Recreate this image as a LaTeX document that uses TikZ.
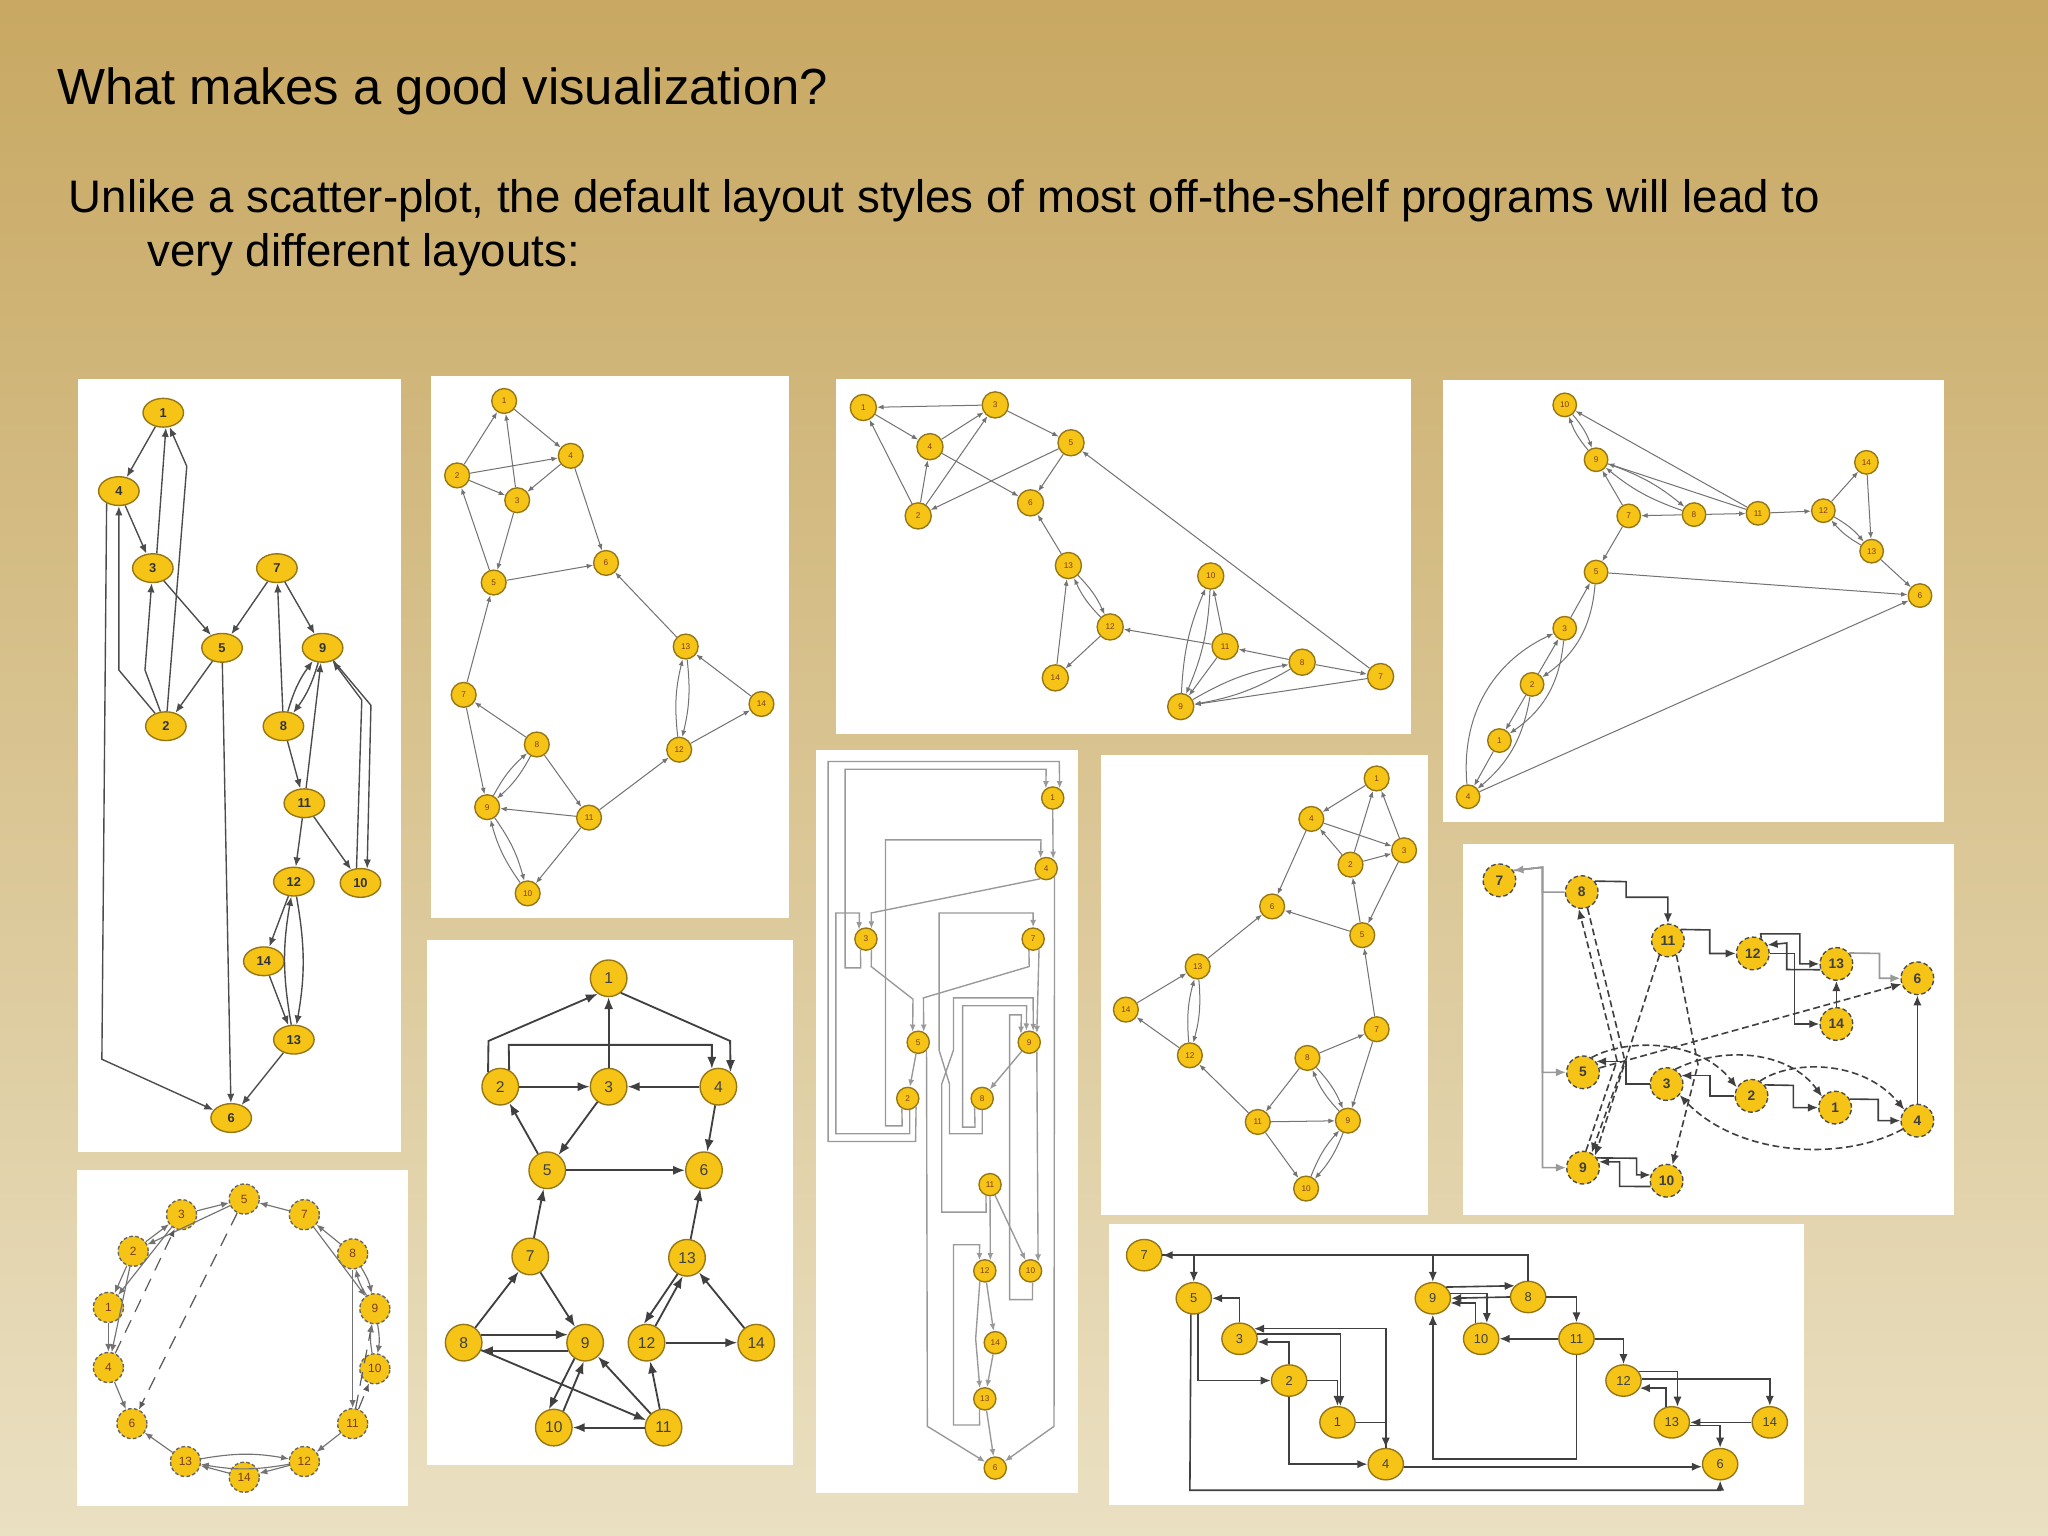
\documentclass[tikz,border=0pt]{standalone}
\usepackage{fontspec}
\setmainfont{Liberation Sans}
\usetikzlibrary{arrows.meta,shapes.geometric}
\definecolor{bgtop}{RGB}{200,168,98}
\definecolor{bgbot}{RGB}{234,224,194}
\definecolor{ygold}{RGB}{245,196,22}
\definecolor{yedge}{RGB}{150,118,20}
\definecolor{labred}{RGB}{125,60,25}
\newcommand\pnodes[3]{\foreach \n/\px/\py in {#3}{\node[#2] (#1\n) at (\px,\py) {\n};}}
\newcommand\pedges[3]{\foreach \ea/\eb in {#3}{\draw[#2] (#1\ea) -- (#1\eb);}}
\newcommand\ppairs[3]{\foreach \ea/\eb in {#3}{\draw[#2] (#1\ea) to[bend left=10] (#1\eb); \draw[#2] (#1\eb) to[bend left=10] (#1\ea);}}
\tikzset{
 nbase/.style={fill=ygold, draw=yedge, line width=0.3pt, inner sep=0pt},
 nA/.style={nbase, ellipse, minimum width=0.31cm, minimum height=0.22cm, font=\fontsize{2.8}{3}\selectfont\bfseries, text=black!80},
 nB/.style={nbase, circle, minimum size=0.19cm, font=\fontsize{1.8}{2}\selectfont, text=labred},
 nC/.style={nB, minimum size=0.20cm},
 nD/.style={nB, minimum size=0.18cm},
 nE/.style={nbase, circle, minimum size=0.23cm, dash pattern=on 0.8pt off 0.5pt, draw=black!60, font=\fontsize{2.6}{3}\selectfont, text=labred},
 nF/.style={nbase, circle, minimum size=0.28cm, font=\fontsize{3.4}{4}\selectfont, text=black!75},
 nG/.style={nB, minimum size=0.17cm},
 nH/.style={nB, minimum size=0.19cm},
 nI/.style={nbase, circle, minimum size=0.25cm, dash pattern=on 1pt off 0.6pt, draw=black!70, font=\fontsize{3}{3.5}\selectfont\bfseries, text=black!75},
 nJ/.style={nbase, ellipse, minimum width=0.27cm, minimum height=0.24cm, font=\fontsize{2.8}{3}\selectfont, text=black!75},
 eA/.style={draw=black!70, line width=0.3pt, -{Latex[length=2pt,width=1.6pt]}},
 eB/.style={draw=black!55, line width=0.22pt, -{Latex[length=1.4pt,width=1.1pt]}},
 eE/.style={draw=black!55, line width=0.25pt, -{Latex[length=1.7pt,width=1.4pt]}},
 eEd/.style={eE, draw=black!65, densely dashed},
 eF/.style={draw=black!75, line width=0.4pt, -{Latex[length=2.6pt,width=2pt]}},
 eG/.style={draw=black!40, line width=0.3pt, -{Latex[length=1.6pt,width=1.3pt]}},
 eI/.style={draw=black!75, line width=0.35pt, -{Latex[length=2.2pt,width=1.8pt]}},
 eIl/.style={eI, draw=black!40},
 eId/.style={eI, dash pattern=on 1.5pt off 0.8pt},
 eJ/.style={draw=black!75, line width=0.35pt, -{Latex[length=2.2pt,width=1.8pt]}},
 txt/.style={anchor=base west, inner sep=0pt, text=black},
}
\begin{document}
\begin{tikzpicture}[x=0.01cm,y=-0.01cm]
\useasboundingbox (0,0) rectangle (1568,1176);
\shade[top color=bgtop,bottom color=bgbot] (0,0) rectangle (1568,1176);

% texts
\node[txt, font=\fontsize{11.06}{13}\selectfont] (title) at (43,80) {What makes a good visualization?};
\node[txt, font=\fontsize{9.93}{12}\selectfont] (sub1) at (52,163) {Unlike a scatter-plot, the default layout styles of most off-the-shelf programs will lead to};
\node[txt, font=\fontsize{9.93}{12}\selectfont] (sub2) at (112,204) {very different layouts:};

% panels
\fill[white] (60,290) rectangle (307,882);
\fill[white] (330,288) rectangle (604,703);
\fill[white] (640,290) rectangle (1080,562);
\fill[white] (1105,291) rectangle (1488,629);
\fill[white] (59,896) rectangle (312,1153);
\fill[white] (327,720) rectangle (607,1122);
\fill[white] (625,574) rectangle (825,1143);
\fill[white] (843,578) rectangle (1093,930);
\fill[white] (1120,646) rectangle (1496,930);
\fill[white] (849,937) rectangle (1381,1152);

% ---------- Panel A
\pnodes{A}{nA}{1/125/316,4/91/376,3/117/435,5/170/496,2/127/556,7/212/435,9/247/496,8/217/556,11/233/615,12/225/675,10/276/676,14/202/736,13/225/796,6/177/856}
\pedges{A}{eA}{1/4,4/3,3/5,5/2,7/5,7/9,8/7,8/11,11/12,11/10,12/14,14/13,13/6,5/6,11/9}
\ppairs{A}{eA}{8/9,12/13}
\draw[eA] (A3.75) -- (A1.-80);
\draw[eA] (A9) -- (284,540) -- (A10.65);
\draw[eA] (A10.105) -- (277,536) -- (A9);
\draw[eA] (A2) -- (143,357) -- (A1);
\draw[eA] (A2) -- (91,513) -- (A4);
\draw[eA] (A2) -- (111,513) -- (A3);
\draw[eA] (A4.225) -- (78,811) -- (A6);

% ---------- Panel B
\pnodes{B}{nB}{1/386/307,2/350/364,3/396/383,4/437/349,5/378/446,6/464/431,13/525/495,14/583/539,7/355/532,8/411/570,12/520/574,9/373/618,11/451/626,10/404/684}
\pedges{B}{eB}{1/4,2/1,3/1,2/4,2/3,4/3,3/5,5/2,4/6,5/6,13/6,14/13,12/14,11/12,7/5,8/7,7/9,8/11,11/9,11/10}
\ppairs{B}{eB}{12/13,8/9,9/10}

% ---------- Panel C
\pnodes{C}{nC}{1/661/312,3/762/310,4/712/342,5/820/339,2/703/395,6/789/385,13/818/433,10/927/441,12/850/480,11/938/495,8/997/507,7/1057/518,14/808/519,9/904/541}
\pedges{C}{eB}{3/1,1/4,4/3,2/1,2/4,2/3,3/5,5/2,5/6,4/6,13/6,14/13,12/14,11/12,11/10,8/11,8/7,7/9,7/5,11/9}
\ppairs{C}{eB}{12/13,9/10,8/9}

% ---------- Panel D
\pnodes{D}{nD}{10/1198/310,9/1222/352,14/1429/354,7/1247/395,8/1297/394,11/1346/393,12/1396/391,13/1433/422,5/1222/438,6/1470/456,3/1198/481,2/1173/524,1/1148/567,4/1124/610}
\pedges{D}{eB}{11/10,11/9,7/9,8/7,8/11,11/12,12/14,14/13,13/6,5/6,4/6,7/5,3/5,2/3,2/1,1/4}
\ppairs{D}{eB}{9/10,8/9,12/13}
\draw[eB] (D5) to[bend left=25] (D2);
\draw[eB] (D4) to[bend left=35] (D3);
\draw[eB] (D3) to[bend left=25] (D1);
\draw[eB] (D2) to[bend left=20] (D4);

% ---------- Panel E
\pnodes{E}{nE}{5/187/918,3/139/930,7/233/930,2/102/958,8/270/960,1/83/1001,9/287/1002,4/83/1047,10/287/1048,6/101/1090,11/270/1090,13/142/1119,12/233/1119,14/187/1131}
\pedges{E}{eE}{3/5,7/5,5/2,2/3,2/1,3/1,1/4,2/4,4/6,13/6,11/12,12/14,14/13,8/7,7/9,8/11}
\pedges{E}{eEd}{5/6,4/3,11/10,11/9}
\ppairs{E}{eE}{8/9,9/10,12/13}

% ---------- Panel F
\pnodes{F}{nF}{1/466/749,2/383/832,3/466/832,4/550/832,5/419/896,6/539/896,7/406/962,13/526/963,8/355/1028,9/448/1028,12/495/1028,14/579/1028,10/424/1093,11/508/1093}
\pedges{F}{eF}{3/1,2/3,4/3,3/5,5/2,4/6,5/6,7/5,13/6,8/7,7/9,8/11,11/9,11/10,11/12,12/14,14/13}
\draw[eF] (F8.25) -- (F9.155);
\draw[eF] (F9.-155) -- (F8.-25);
\draw[eF] (F9.236) -- (F10.105);
\draw[eF] (F10.60) -- (F9.266);
\draw[eF] (F13.240) -- (F12.98);
\draw[eF] (F12.62) -- (F13.257);
\draw[eF] (F2.130) -- (374,797) -- (F1.235);
\draw[eF] (F2.62) -- (389.5,800) -- (545,800) -- (F4.110);
\draw[eF] (F1.-50) -- (559,797) -- (F4.50);

% ---------- Panel G
\pnodes{G}{nG}{1/806/611,4/801/665,3/663/719,7/791/719,5/703/798,9/788/798,2/695/841,8/752/841,11/758/907,12/754/973,10/789/973,14/762/1028,13/754/1071,6/762/1124}
\pedges{G}{eG}{5/2,9/8,12/14,14/13,13/6,11/10}
\draw[eG] (G1.south) -- (G4.54);
\draw[eG] (G4.240) -- (667,699) -- (G3.62);
\draw[eG] (G2.-45) -- (701,874) -- (634,874) -- (634,583) -- (811,583) -- (G1.54);
\draw[eG] (G2.-80) -- (696.5,868) -- (640,868) -- (640,699) -- (658,699) -- (G3.126);
\draw[eG] (G2.-120) -- (690.75,862) -- (678,862) -- (678,643) -- (797,643) -- (G4.118);
\draw[eG] (G3.-118) -- (659,741) -- (647,741) -- (647,589) -- (801,589) -- (G1.126);
\draw[eG] (G3.-62) -- (667,740) -- (699,765) -- (G5.118);
\draw[eG] (G7.-111) -- (788,740) -- (707,764) -- (G5.62);
\draw[eG] (G5.-45) -- (710,1092) -- (G6);
\draw[eG] (G4.-45) -- (807,1092) -- (G6);
\draw[eG] (G7.-60) -- (G9.50);
\draw[eG] (G8.-90) -- (752,868) -- (727,868) -- (727,830) -- (719,804) -- (719,699) -- (791,699) -- (G7.north);
\draw[eG] (G8.-130) -- (746.5,863) -- (737,863) -- (737,770) -- (786,770) -- (G9.104);
\draw[eG] (G11.-110) -- (755,928) -- (721,928) -- (721,830) -- (730,804) -- (730,764) -- (791,764) -- (G9.70);
\draw[eG] (G10.-80) -- (790.5,995) -- (773,995) -- (773,777) -- (782,777) -- (G9.135);
\draw[eG] (G9.-50) -- (G10.50);
\draw[eG] (G11.south) -- (G12.62);
\draw[eG] (G12.-115) -- (747,1025) -- (G13.115);
\draw[eG] (G13.-117) -- (750,1091) -- (730,1091) -- (730,953) -- (750,953) -- (G12.117);

% ---------- Panel H
\pnodes{H}{nH}{1/1054/596,4/1004/627,3/1075/651,2/1034/662,6/974/694,5/1043/716,13/917/740,14/862/773,7/1054/788,12/911/808,8/1001/810,9/1032/858,11/963/859,10/1000/910}
\pedges{H}{eB}{1/4,4/3,3/1,2/1,2/4,2/3,4/6,3/5,5/2,5/6,13/6,14/13,12/14,11/12,7/5,8/7,7/9,8/11,11/9,11/10}
\ppairs{H}{eB}{12/13,8/9,9/10}

% ---------- Panel I
\pnodes{I}{nI}{7/1148/674,8/1211/683,11/1277/720,12/1342/730,13/1406/738,6/1468/749,14/1406/784,5/1212/821,3/1276/830,2/1341/839,1/1405/848,4/1468/858,9/1212/894,10/1276/904}
\draw[eIl] (I8.west) -| (1181,664) -- (I7.35);
\draw[eIl] (I7.35) -- (1181,664) |- (I5.west);
\draw[eIl] (I7.35) -- (1181,664) |- (I9.west);
\draw[eI] (I8.40) -- (1245,675) -- (1245,687) -| (I11.north);
\draw[eI] (I11.40) -- (1309,712) |- (I12.west);
\draw[eI] (I12.60) -- (1348,715) -- (1378,715) |- (I13.west);
\draw[eI] (I13.-160) -- (1368,742.3) -- (1368,722) -- (I12.30);
\draw[eI] (I12.east) -- (1374,730) |- (I14.west);
\draw[eI] (I14) -- (I13);
\draw[eIl] (I13.40) -- (1439,730) |- (I6.west);
\draw[eId] (I5.15) -- (I6.200);
\draw[eI] (I3.west) -- (1245,830) |- (I5.40);
\draw[eI] (I4) -- (I6);
\draw[eI] (I1.30) -- (1438,841.75) |- (I4.west);
\draw[eI] (I2.40) -- (1373,831) |- (I1.west);
\draw[eId] (I2.60) .. controls (1370,812) and (1425,810) .. (I4.140);
\draw[eId] (I5.60) .. controls (1245,795) and (1300,795) .. (I2.150);
\draw[eId] (I3.60) .. controls (1320,800) and (1370,805) .. (I1.140);
\draw[eId] (I4.-150) .. controls (1410,890) and (1330,885) .. (I3.-40);
\draw[eI] (I2.west) -- (1309,839) |- (I3.30);
\draw[eId] (I8.-70) -- (1244,812) -- (I9.60);
\draw[eId] (I9.80) -- (1238,812) -- (I8.-100);
\draw[eId] (I11.-120) -- (I9.45);
\draw[eId] (I11.-60) -- (1300,815) -- (I10.70);
\draw[eI] (I9.35) -- (1253,886.8) |- (I10.160);
\draw[eI] (I10.200) -- (1240,908.3) |- (I9.20);

% ---------- Panel J
\pnodes{J}{nJ}{7/876/961,5/914/994,3/949/1025,2/987/1057,1/1024/1089,4/1061/1121,9/1097/994,8/1170/993,10/1134/1025,11/1207/1025,12/1243/1057,13/1280/1089,14/1355/1089,6/1317/1121}
\draw[eJ] (J8.north) |- (J7.east);
\draw[eJ] (J7.east) -| (J5.north);
\draw[eJ] (J7.east) -| (J9.north);
\draw[eJ] (J9.40) -- (J8.140);
\draw[eJ] (J8.west) -- (J9.east);
\draw[eJ] (J9.15) -| (J10.70);
\draw[eJ] (J10.110) |- (J9.-15);
\draw[eJ] (J8.east) -| (J11.north);
\draw[eJ] (J11.west) -- (J10.east);
\draw[eJ] (J11.east) -| (J12.north);
\draw[eJ] (J11.south) -- (1207,1117) -| (J9.south);
\draw[eJ] (J12.30) -| (J13.70);
\draw[eJ] (J13.110) |- (J12.-25);
\draw[eJ] (J12.5) -| (J14.north);
\draw[eJ] (J14.west) -- (J13.east);
\draw[eJ] (J13.-10) -| (J6.north);
\draw[eJ] (J4.-8) -- (J6.188);
\draw[eJ] (J5.-100) -- (911,1141) -| (J6.south);
\draw[eJ] (J5.-75) |- (J2.west);
\draw[eJ] (J3.north) |- (J5.east);
\draw[eJ] (J3.15) -| (J1.80);
\draw[eJ] (J4.north) |- (J3.35);
\draw[eJ] (J2.north) |- (J3.-10);
\draw[eJ] (J2.east) -| (J1.north);
\draw[eJ] (J1.east) -| (J4.north);
\draw[eJ] (J2.south) |- (J4.west);
\end{tikzpicture}
\end{document}
